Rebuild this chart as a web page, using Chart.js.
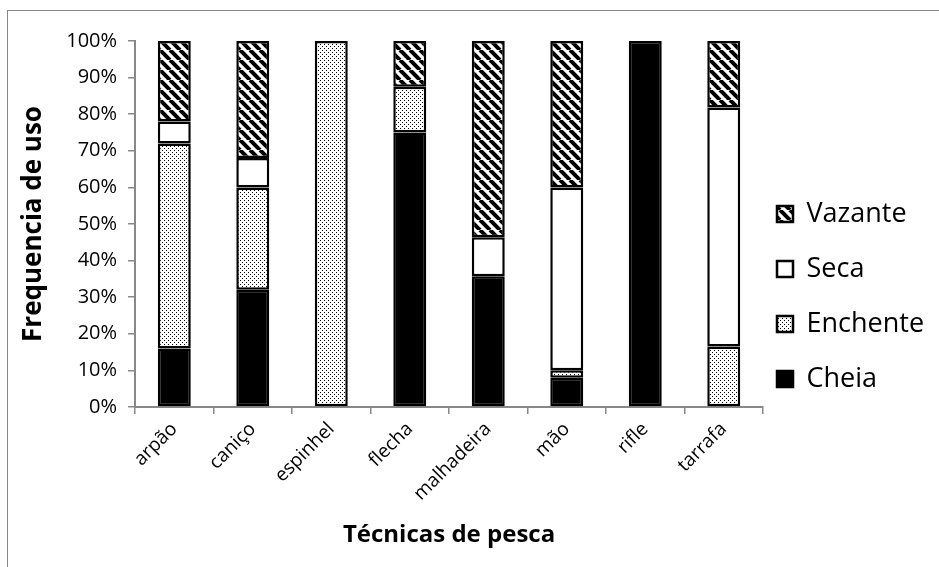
<!DOCTYPE html>
<html>
<head>
<meta charset="utf-8">
<script src="https://cdn.jsdelivr.net/npm/chart.js@4/dist/chart.umd.min.js"></script>
<style>
  html, body { margin: 0; padding: 0; background: #fff; }
  #wrap { position: absolute; left: 0; top: 0; width: 939px; height: 567px; }
  #frame { position: absolute; left: 7px; top: 10px; width: 940px; height: 560px; border-left: 1px solid #888; border-top: 1px solid #888; box-sizing: border-box; pointer-events: none; }
</style>
</head>
<body>
<div id="wrap"><canvas id="c" width="939" height="567"></canvas></div>
<div id="frame"></div>
<script>
const categories = ["arpão", "caniço", "espinhel", "flecha", "malhadeira", "mão", "rifle", "tarrafa"];
const cheia    = [16, 32, 0, 75, 35.7, 8, 100, 0];
const enchente = [56, 28, 100, 12.5, 0, 2, 0, 16.5];
const seca     = [6, 8, 0, 0, 10.7, 50, 0, 65.3];
const vazante  = [22, 32, 0, 12.5, 53.6, 40, 0, 18.2];
const yTicks = [0, 10, 20, 30, 40, 50, 60, 70, 80, 90, 100];

function dotPattern() {
  const c = document.createElement('canvas');
  c.width = 4; c.height = 4;
  const x = c.getContext('2d');
  x.fillStyle = '#fff'; x.fillRect(0, 0, 4, 4);
  x.fillStyle = '#000';
  x.fillRect(0, 0, 1, 1);
  x.fillRect(2, 2, 1, 1);
  return x.createPattern(c, 'repeat');
}
function hatchPattern() {
  const s = 10;
  const c = document.createElement('canvas');
  c.width = s; c.height = s;
  const x = c.getContext('2d');
  x.fillStyle = '#fff'; x.fillRect(0, 0, s, s);
  x.strokeStyle = '#000'; x.lineWidth = 4;
  for (const k of [-s, 0, s]) {
    x.beginPath(); x.moveTo(k, 0); x.lineTo(k + s, s); x.stroke();
  }
  return x.createPattern(c, 'repeat');
}

// legend placement tweak: narrower legend box, items kept near the plot
const LEGEND_WIDTH = 176, LEGEND_SHIFT = 14, LEGEND_DY = -1;
const legendTweak = {
  id: 'legendTweak',
  afterInit(chart) {
    const lg = chart.legend;
    if (!lg) return;
    const orig = lg.fit.bind(lg);
    lg.fit = function () { orig(); this.width = LEGEND_WIDTH; };
  },
  afterLayout(chart) {
    const lg = chart.legend;
    if (!lg) return;
    lg.left -= LEGEND_SHIFT; lg.right -= LEGEND_SHIFT;
    lg.top += LEGEND_DY; lg.bottom += LEGEND_DY;
  }
};

const FONT = "'Open Sans', sans-serif";
const common = { borderColor: '#000', borderWidth: 2.5, borderSkipped: false, barPercentage: 0.42, categoryPercentage: 1 };

new Chart(document.getElementById('c'), {
  type: 'bar',
  data: {
    labels: categories,
    datasets: [
      Object.assign({ label: 'Cheia', data: cheia, backgroundColor: '#000' }, common),
      Object.assign({ label: 'Enchente', data: enchente, backgroundColor: dotPattern() }, common),
      Object.assign({ label: 'Seca', data: seca, backgroundColor: '#fff' }, common),
      Object.assign({ label: 'Vazante', data: vazante, backgroundColor: hatchPattern() }, common)
    ]
  },
  plugins: [legendTweak],
  options: {
    responsive: false,
    animation: false,
    layout: { padding: { left: 14, top: 41, right: 0, bottom: 13 } },
    plugins: {
      tooltip: { enabled: false },
      legend: {
        position: 'right',
        reverse: true,
        labels: {
          color: '#000',
          font: { family: FONT, size: 27 },
          boxWidth: 16, boxHeight: 16,
          padding: 28
        }
      }
    },
    scales: {
      x: {
        stacked: true,
        grid: { offset: true, drawOnChartArea: false, color: '#888', tickLength: 7, lineWidth: 1.5 },
        border: { color: '#888', width: 2 },
        ticks: { color: '#000', font: { family: FONT, size: 19 }, minRotation: 45, maxRotation: 45, padding: 4 },
        title: { display: true, text: 'Técnicas de pesca', color: '#000', font: { family: FONT, size: 24, weight: 'bold' }, padding: { top: 12 } }
      },
      y: {
        stacked: true,
        min: 0, max: 100,
        afterBuildTicks: (axis) => { axis.ticks = yTicks.map(v => ({ value: v })); },
        grid: { drawOnChartArea: false, color: '#888', tickLength: 7, lineWidth: 1.5 },
        border: { color: '#888', width: 2 },
        ticks: { color: '#000', font: { family: FONT, size: 20 }, padding: 11, callback: (v) => v + '%' },
        title: { display: true, text: 'Frequencia de uso', color: '#000', font: { family: FONT, size: 26, weight: 'bold' }, padding: { bottom: 6 } }
      }
    }
  }
});
</script>
</body>
</html>
